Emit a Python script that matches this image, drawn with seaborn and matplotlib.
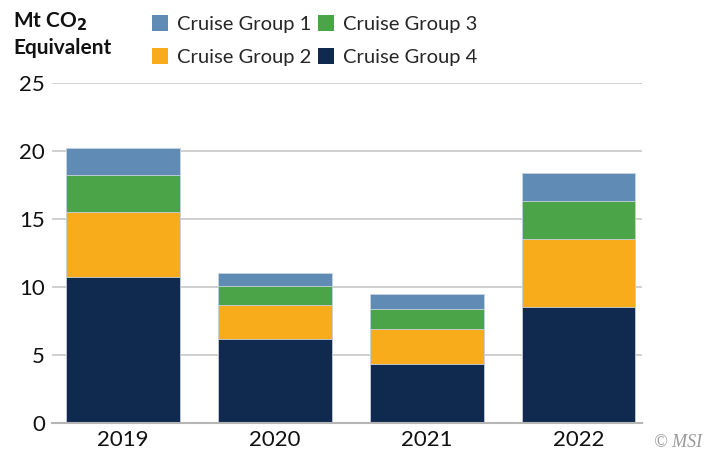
import numpy as np
import pandas as pd
import matplotlib
matplotlib.use("Agg")
import matplotlib.pyplot as plt
import seaborn as sns
from matplotlib.patches import Patch

# values (Mt CO2 equivalent)
years = ["2019", "2020", "2021", "2022"]
group1 = [2.0, 0.9, 1.07, 2.1]
group2 = [4.8, 2.5, 2.6, 5.05]
group3 = [2.7, 1.4, 1.45, 2.75]
group4 = [10.7, 6.2, 4.35, 8.5]

groups = ["Cruise Group 1", "Cruise Group 2", "Cruise Group 3", "Cruise Group 4"]
colors = {"Cruise Group 1": "#5F8BB5", "Cruise Group 2": "#F9AC1B",
          "Cruise Group 3": "#4BA447", "Cruise Group 4": "#0F2A4E"}

sns.set_theme(style="white")
plt.rcParams['font.family'] = ['Lato', 'DejaVu Sans']

df = pd.DataFrame({"year": years, "g1": group1, "g2": group2,
                   "g3": group3, "g4": group4})
# stacking order bottom -> top: 4, 2, 3, 1
df["c4"] = df["g4"]
df["c2"] = df["c4"] + df["g2"]
df["c3"] = df["c2"] + df["g3"]
df["c1"] = df["c3"] + df["g1"]

fig = plt.figure(figsize=(7.2, 4.59), dpi=100)
ax = fig.add_axes([0.072, 0.078, 0.82, 0.742])

for col, name in [("c1", "Cruise Group 1"), ("c3", "Cruise Group 3"),
                  ("c2", "Cruise Group 2"), ("c4", "Cruise Group 4")]:
    sns.barplot(data=df, x="year", y=col, color=colors[name], ax=ax,
                width=0.75, edgecolor="#C8D3E0", linewidth=0.6, saturation=1)

ax.set_ylim(0, 25)
ax.set_xlim(-0.47, 3.42)
ax.set_yticks([0, 5, 10, 15, 20, 25])
ax.yaxis.grid(True, color="#C8C8C8", linewidth=1.2)
ax.set_axisbelow(True)
for s in ["top", "right", "left"]:
    ax.spines[s].set_visible(False)
ax.spines["bottom"].set_color("#B5B5B5")
ax.spines["bottom"].set_linewidth(1.5)
ax.tick_params(axis="both", length=0, labelsize=16, colors="#111111")
ax.tick_params(axis="y", pad=5)
ax.tick_params(axis="x", pad=5)
ax.set_xlabel("")
ax.set_ylabel("")

# legend, two columns: 1/2 then 3/4
handles = [Patch(facecolor=colors[g], edgecolor="none") for g in groups]
fig.legend(handles, groups, loc="upper left", bbox_to_anchor=(0.186, 1.006),
           ncol=2, frameon=False, fontsize=14.5, handlelength=0.8,
           handleheight=0.8, handletextpad=0.45, columnspacing=0.3,
           labelspacing=0.75)

fig.text(0.018, 0.952, "Mt CO$_\\mathbf{2}$", fontsize=15, fontweight="bold",
         va="center", ha="left", color="#111111")
fig.text(0.018, 0.895, "Equivalent", fontsize=15, fontweight="bold",
         va="center", ha="left", color="#111111")

fig.text(0.975, 0.035, "© MSI", fontsize=13, style="italic", color="#9A9A9A",
         family=["Liberation Serif", "DejaVu Serif"], ha="right", va="center")

fig.savefig("out.png", dpi=100)
